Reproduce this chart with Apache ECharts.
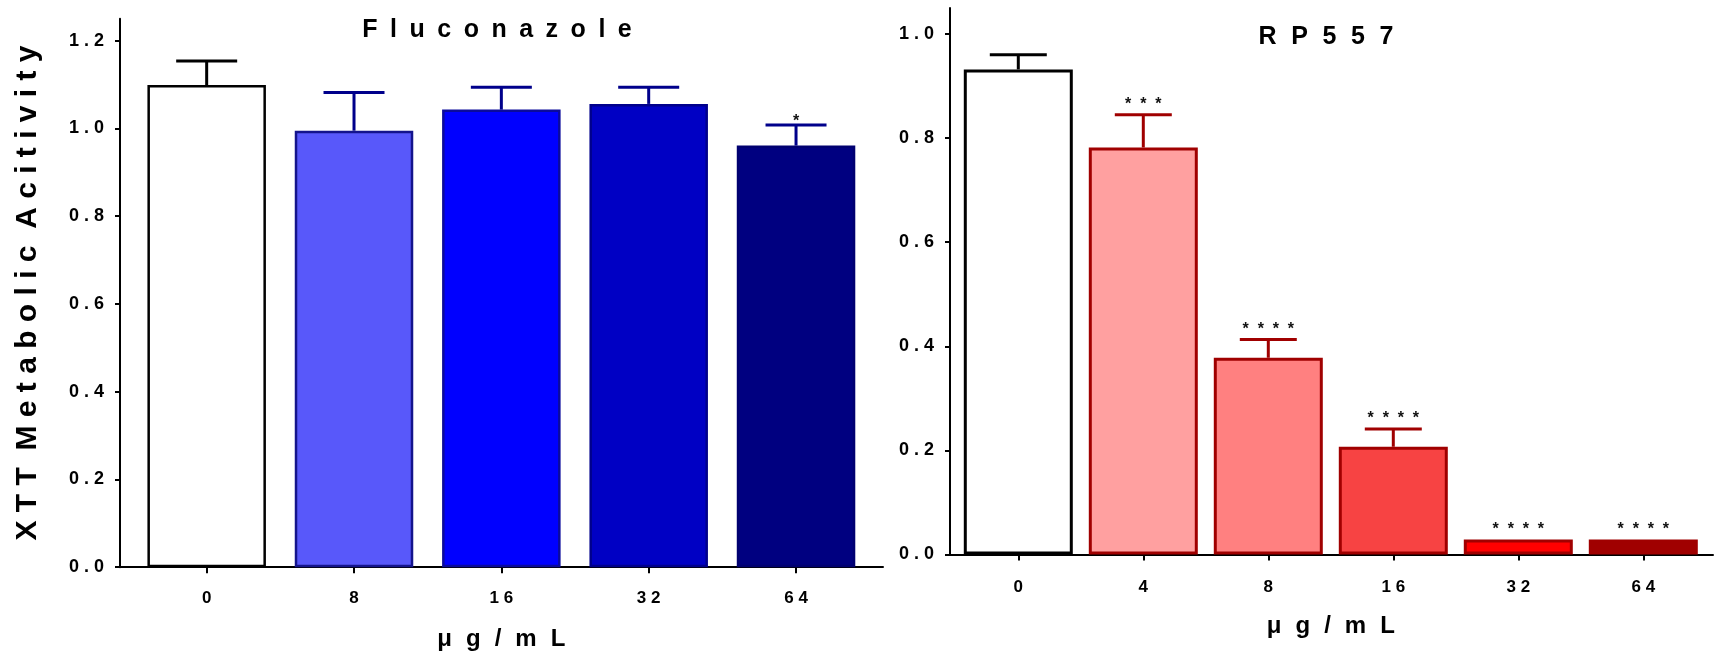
<!DOCTYPE html>
<html>
<head>
<meta charset="utf-8">
<script src="https://cdn.jsdelivr.net/npm/echarts@6/dist/echarts.min.js"></script>
<style>
html,body{margin:0;padding:0;background:#fff;}
#chart{width:1715px;height:655px;}
</style>
</head>
<body>
<div id="chart"></div>
<script>
// ---- data ----
const flucoCats = ['0', '8', '16', '32', '64'];
const flucoMean = [1.099, 0.995, 1.043, 1.056, 0.961];
const flucoSem = [0.055, 0.087, 0.051, 0.038, 0.047];
const flucoStars = ['', '', '', '', '*'];
const flucoTicks = [0, 0.2, 0.4, 0.6, 0.8, 1.0, 1.2];

const rpCats = ['0', '4', '8', '16', '32', '64'];
const rpMean = [0.932, 0.782, 0.378, 0.207, 0.029, 0.029];
const rpSem = [0.028, 0.063, 0.035, 0.034, 0, 0];
const rpStars = ['', '***', '****', '****', '****', '****'];
const rpTicks = [0, 0.2, 0.4, 0.6, 0.8, 1.0];

const titles = ['Fluconazole', 'RP557'];
const yName = 'XTT Metabolic Acitivity';
const xName = 'μg/mL';

// ---- styles ----
const FONT = "'Liberation Sans', Arial, Helvetica, sans-serif";
const flucoFill = ['#ffffff', '#5858fa', '#0000ff', '#0000c4', '#000080'];
const flucoBorder = ['#000000', '#14148c', '#0a0a9c', '#00008c', '#000070'];
const flucoErr = ['#000000', '#00008b', '#00008b', '#00008b', '#00008b'];
const rpFill = ['#ffffff', '#ffa0a0', '#ff8080', '#f74343', '#ff0000', '#a00000'];
const rpBorder = ['#000000', '#a00000', '#a00000', '#a00000', '#a00000', '#a00000'];
const rpErr = ['#000000', '#a00000', '#a00000', '#a00000', '#a00000', '#a00000'];

const spaced = (s, sep) => String(s).split('').join(sep);
const spacedWords = (s, sep, wsep) => s.split(' ').map(w => spaced(w, sep)).join(wsep);

function barSeries(idx, means, fill, border, bw, lw) {
  return {
    type: 'bar', xAxisIndex: idx, yAxisIndex: idx, barWidth: bw, z: 2,
    data: means.map((v, i) => ({
      value: v,
      itemStyle: { color: fill[i], borderColor: border[i], borderWidth: lw }
    }))
  };
}

function errSeries(idx, means, sems, stars, errCol, halfCap, lw, starOff) {
  return {
    type: 'custom', xAxisIndex: idx, yAxisIndex: idx, z: 5,
    data: means.map((m, i) => [i, m, sems[i]]),
    renderItem: function (params, api) {
      const i = api.value(0), m = api.value(1), s = api.value(2);
      const base = api.coord([i, m]);
      const top = api.coord([i, m + s]);
      const col = errCol[i];
      const ch = [];
      if (s > 0) {
        ch.push({ type: 'line', shape: { x1: base[0], y1: base[1], x2: top[0], y2: top[1] },
          style: { stroke: col, lineWidth: lw } });
        ch.push({ type: 'line', shape: { x1: top[0] - halfCap, y1: top[1], x2: top[0] + halfCap, y2: top[1] },
          style: { stroke: col, lineWidth: lw } });
      }
      const st = stars[params.dataIndex];
      if (st) {
        ch.push({ type: 'text', x: top[0], y: top[1] - starOff,
          style: { text: spaced(st, '  '), fill: '#111', font: 'bold 16px ' + FONT,
            align: 'center', verticalAlign: 'middle' } });
      }
      return { type: 'group', children: ch };
    }
  };
}

const option = {
  backgroundColor: '#fff',
  animation: false,
  grid: [
    { left: 133, width: 736.7, top: 18.8, height: 548.4, outerBoundsMode: 'none', containLabel: false },
    { left: 955.8, width: 750, top: 8, height: 546.5, outerBoundsMode: 'none', containLabel: false },
    { left: 120, width: 763, top: 18.8, height: 548.4, outerBoundsMode: 'none', containLabel: false },
    { left: 950, width: 763, top: 8, height: 546.5, outerBoundsMode: 'none', containLabel: false }
  ],
  xAxis: [
    {
      type: 'category', gridIndex: 0, data: flucoCats,
      axisLine: { show: true, lineStyle: { color: '#000', width: 2 } },
      axisTick: { show: true, alignWithLabel: true, length: 6, lineStyle: { color: '#000', width: 2 } },
      axisLabel: { margin: 23, color: '#000', fontWeight: 'bold', fontSize: 17, fontFamily: FONT,
        formatter: v => spaced(v, ' ') },
      name: spaced(xName, '\u2002\u200A'), nameLocation: 'middle', nameGap: 60,
      nameTextStyle: { color: '#000', fontWeight: 'bold', fontSize: 24, fontFamily: FONT }
    },
    {
      type: 'category', gridIndex: 1, data: rpCats,
      axisLine: { show: true, lineStyle: { color: '#000', width: 2 } },
      axisTick: { show: true, alignWithLabel: true, length: 6, lineStyle: { color: '#000', width: 2 } },
      axisLabel: { margin: 24, color: '#000', fontWeight: 'bold', fontSize: 17, fontFamily: FONT,
        formatter: v => spaced(v, ' ') },
      name: spaced(xName, '\u2002\u200A'), nameLocation: 'middle', nameGap: 60,
      nameTextStyle: { color: '#000', fontWeight: 'bold', fontSize: 24, fontFamily: FONT }
    },
    { type: 'value', gridIndex: 2, min: 0, max: 1, axisLine: { show: true, onZero: false, lineStyle: { color: '#000', width: 2 } },
      axisTick: { show: false }, axisLabel: { show: false }, splitLine: { show: false } },
    { type: 'value', gridIndex: 3, min: 0, max: 1, axisLine: { show: true, onZero: false, lineStyle: { color: '#000', width: 2 } },
      axisTick: { show: false }, axisLabel: { show: false }, splitLine: { show: false } }
  ],
  yAxis: [
    {
      type: 'value', gridIndex: 0, min: 0, max: 1.25, interval: 0.2, offset: 13,
      axisLine: { show: true, lineStyle: { color: '#000', width: 2 } },
      axisTick: { show: true, length: 5, customValues: flucoTicks, lineStyle: { color: '#000', width: 2 } },
      axisLabel: { margin: 16, color: '#000', fontWeight: 'bold', fontSize: 18, fontFamily: FONT,
        customValues: flucoTicks, formatter: v => spaced(Number(v).toFixed(1), ' ') },
      splitLine: { show: false },
      name: spacedWords(yName, ' ', '  '), nameLocation: 'middle', nameGap: 77,
      nameTextStyle: { color: '#000', fontWeight: 'bold', fontSize: 30, fontFamily: FONT }
    },
    {
      type: 'value', gridIndex: 1, min: 0, max: 1.05, interval: 0.2, offset: 5.8,
      axisLine: { show: true, lineStyle: { color: '#000', width: 2 } },
      axisTick: { show: true, length: 5, customValues: rpTicks, lineStyle: { color: '#000', width: 2 } },
      axisLabel: { margin: 16, color: '#000', fontWeight: 'bold', fontSize: 18, fontFamily: FONT,
        customValues: rpTicks, formatter: v => spaced(Number(v).toFixed(1), ' ') },
      splitLine: { show: false }
    },
    { type: 'value', gridIndex: 2, show: false, min: 0, max: 1 },
    { type: 'value', gridIndex: 3, show: false, min: 0, max: 1 }
  ],
  graphic: [
    { type: 'text', x: 497, y: 30, style: { text: spaced(titles[0], '\u2002'), fill: '#000',
      font: 'bold 25px ' + FONT, align: 'center', verticalAlign: 'middle' } },
    { type: 'text', x: 1326, y: 37, style: { text: spaced(titles[1], '\u2002\u200A'), fill: '#000',
      font: 'bold 25px ' + FONT, align: 'center', verticalAlign: 'middle' } }
  ],
  series: [
    barSeries(0, flucoMean, flucoFill, flucoBorder, 118.5, 2.5),
    errSeries(0, flucoMean, flucoSem, flucoStars, flucoErr, 30.5, 3, 3),
    barSeries(1, rpMean, rpFill, rpBorder, 109, 3),
    errSeries(1, rpMean, rpSem, rpStars, rpErr, 28.5, 3, 10)
  ]
};

const chart = echarts.init(document.getElementById('chart'), null, { renderer: 'canvas' });
chart.setOption(option);
</script>
</body>
</html>
